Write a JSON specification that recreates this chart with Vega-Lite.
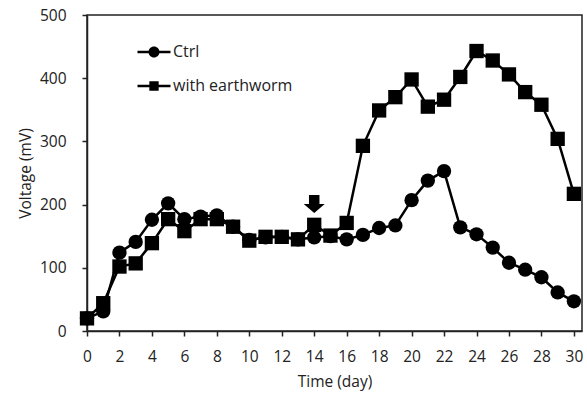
{
  "$schema": "https://vega.github.io/schema/vega-lite/v6.json",
  "width": 495,
  "height": 316,
  "autosize": {"type": "none"},
  "padding": {"left": 87, "top": 15, "right": 5, "bottom": 64},
  "background": "white",
  "config": {
    "font": "Open Sans",
    "view": {"stroke": "#222", "strokeWidth": 1.5},
    "axis": {
      "grid": false,
      "domainColor": "#222",
      "domainWidth": 1.5,
      "tickColor": "#222",
      "tickWidth": 1.5,
      "tickSize": 5,
      "labelColor": "#222",
      "labelFontSize": 15.5,
      "titleColor": "#222",
      "titleFontSize": 15.5,
      "titleFontWeight": "normal",
      "labelFlush": false,
      "labelOverlap": false
    }
  },
  "datasets": {
    "series": [
      {"series": "Ctrl", "day": 0, "voltage": 20},
      {"series": "Ctrl", "day": 1, "voltage": 31},
      {"series": "Ctrl", "day": 2, "voltage": 124},
      {"series": "Ctrl", "day": 3, "voltage": 141},
      {"series": "Ctrl", "day": 4, "voltage": 176},
      {"series": "Ctrl", "day": 5, "voltage": 202},
      {"series": "Ctrl", "day": 6, "voltage": 177},
      {"series": "Ctrl", "day": 7, "voltage": 181},
      {"series": "Ctrl", "day": 8, "voltage": 183},
      {"series": "Ctrl", "day": 9, "voltage": 165},
      {"series": "Ctrl", "day": 10, "voltage": 144},
      {"series": "Ctrl", "day": 11, "voltage": 148},
      {"series": "Ctrl", "day": 12, "voltage": 149},
      {"series": "Ctrl", "day": 13, "voltage": 145},
      {"series": "Ctrl", "day": 14, "voltage": 148},
      {"series": "Ctrl", "day": 15, "voltage": 150},
      {"series": "Ctrl", "day": 16, "voltage": 145},
      {"series": "Ctrl", "day": 17, "voltage": 152},
      {"series": "Ctrl", "day": 18, "voltage": 163},
      {"series": "Ctrl", "day": 19, "voltage": 167},
      {"series": "Ctrl", "day": 20, "voltage": 207},
      {"series": "Ctrl", "day": 21, "voltage": 238},
      {"series": "Ctrl", "day": 22, "voltage": 253},
      {"series": "Ctrl", "day": 23, "voltage": 164},
      {"series": "Ctrl", "day": 24, "voltage": 153},
      {"series": "Ctrl", "day": 25, "voltage": 132},
      {"series": "Ctrl", "day": 26, "voltage": 108},
      {"series": "Ctrl", "day": 27, "voltage": 97},
      {"series": "Ctrl", "day": 28, "voltage": 85},
      {"series": "Ctrl", "day": 29, "voltage": 61},
      {"series": "Ctrl", "day": 30, "voltage": 47},
      {"series": "with earthworm", "day": 0, "voltage": 20},
      {"series": "with earthworm", "day": 1, "voltage": 44},
      {"series": "with earthworm", "day": 2, "voltage": 102},
      {"series": "with earthworm", "day": 3, "voltage": 107},
      {"series": "with earthworm", "day": 4, "voltage": 139},
      {"series": "with earthworm", "day": 5, "voltage": 177},
      {"series": "with earthworm", "day": 6, "voltage": 158},
      {"series": "with earthworm", "day": 7, "voltage": 177},
      {"series": "with earthworm", "day": 8, "voltage": 177},
      {"series": "with earthworm", "day": 9, "voltage": 165},
      {"series": "with earthworm", "day": 10, "voltage": 143},
      {"series": "with earthworm", "day": 11, "voltage": 149},
      {"series": "with earthworm", "day": 12, "voltage": 149},
      {"series": "with earthworm", "day": 13, "voltage": 145},
      {"series": "with earthworm", "day": 14, "voltage": 168},
      {"series": "with earthworm", "day": 15, "voltage": 151},
      {"series": "with earthworm", "day": 16, "voltage": 171},
      {"series": "with earthworm", "day": 17, "voltage": 293},
      {"series": "with earthworm", "day": 18, "voltage": 349},
      {"series": "with earthworm", "day": 19, "voltage": 370},
      {"series": "with earthworm", "day": 20, "voltage": 398},
      {"series": "with earthworm", "day": 21, "voltage": 355},
      {"series": "with earthworm", "day": 22, "voltage": 366},
      {"series": "with earthworm", "day": 23, "voltage": 402},
      {"series": "with earthworm", "day": 24, "voltage": 443},
      {"series": "with earthworm", "day": 25, "voltage": 428},
      {"series": "with earthworm", "day": 26, "voltage": 406},
      {"series": "with earthworm", "day": 27, "voltage": 378},
      {"series": "with earthworm", "day": 28, "voltage": 358},
      {"series": "with earthworm", "day": 29, "voltage": 304},
      {"series": "with earthworm", "day": 30, "voltage": 217}
    ],
    "arrow": [{"day": 14, "voltage": 201}]
  },
  "encoding": {
    "x": {
      "field": "day",
      "type": "quantitative",
      "scale": {"domain": [0, 30.5], "nice": false},
      "axis": {
        "title": "Time (day)",
        "values": [0, 2, 4, 6, 8, 10, 12, 14, 16, 18, 20, 22, 24, 26, 28, 30],
        "labelOverlap": false,
        "labelPadding": 13,
        "titlePadding": 10
      }
    },
    "y": {
      "field": "voltage",
      "type": "quantitative",
      "scale": {"domain": [0, 500], "nice": false},
      "axis": {
        "title": "Voltage (mV)",
        "values": [0, 100, 200, 300, 400, 500],
        "labelOverlap": false,
        "labelPadding": 16,
        "titlePadding": 6
      }
    }
  },
  "layer": [
    {
      "data": {"name": "series"},
      "mark": {"type": "line", "color": "black", "strokeWidth": 2.5},
      "encoding": {
        "detail": {"field": "series"}
      }
    },
    {
      "data": {"name": "series"},
      "mark": {"type": "point", "filled": true, "color": "black", "opacity": 1, "size": 205},
      "encoding": {
        "shape": {
          "field": "series",
          "scale": {"domain": ["Ctrl", "with earthworm"], "range": ["circle", "square"]},
          "legend": null
        }
      }
    },
    {
      "data": {"name": "series"},
      "transform": [{"filter": "datum.day < 0"}],
      "mark": {"type": "point", "filled": true, "color": "black", "opacity": 1},
      "encoding": {
        "shape": {
          "field": "series",
          "scale": {
            "domain": ["Ctrl", "with earthworm"],
            "range": [
              "M1,0A1,1 0 1,1 -1,0A1,1 0 1,1 1,0ZM-3,-0.23L-0.9,-0.23L-0.9,0.23L-3,0.23ZM0.9,-0.23L3,-0.23L3,0.23L0.9,0.23Z",
              "M-0.85,-0.85L0.85,-0.85L0.85,0.85L-0.85,0.85ZM-3,-0.23L-0.85,-0.23L-0.85,0.23L-3,0.23ZM0.85,-0.23L3,-0.23L3,0.23L0.85,0.23Z"
            ]
          },
          "legend": {
            "title": null,
            "orient": "none",
            "legendX": 59,
            "legendY": 29,
            "padding": 0,
            "symbolSize": 121,
            "symbolStrokeWidth": 0,
            "symbolFillColor": "black",
            "symbolOpacity": 1,
            "labelOffset": 11,
            "labelFontSize": 16,
            "labelColor": "#222",
            "rowPadding": 18
          }
        }
      }
    },
    {
      "data": {"name": "arrow"},
      "mark": {
        "type": "point",
        "shape": "M-0.5,-0.86L0.5,-0.86L0.5,0L1,0L0,0.86L-1,0L-0.5,0Z",
        "size": 441,
        "filled": true,
        "color": "black",
        "opacity": 1
      }
    }
  ],
  "resolve": {"scale": {"shape": "independent"}}
}
